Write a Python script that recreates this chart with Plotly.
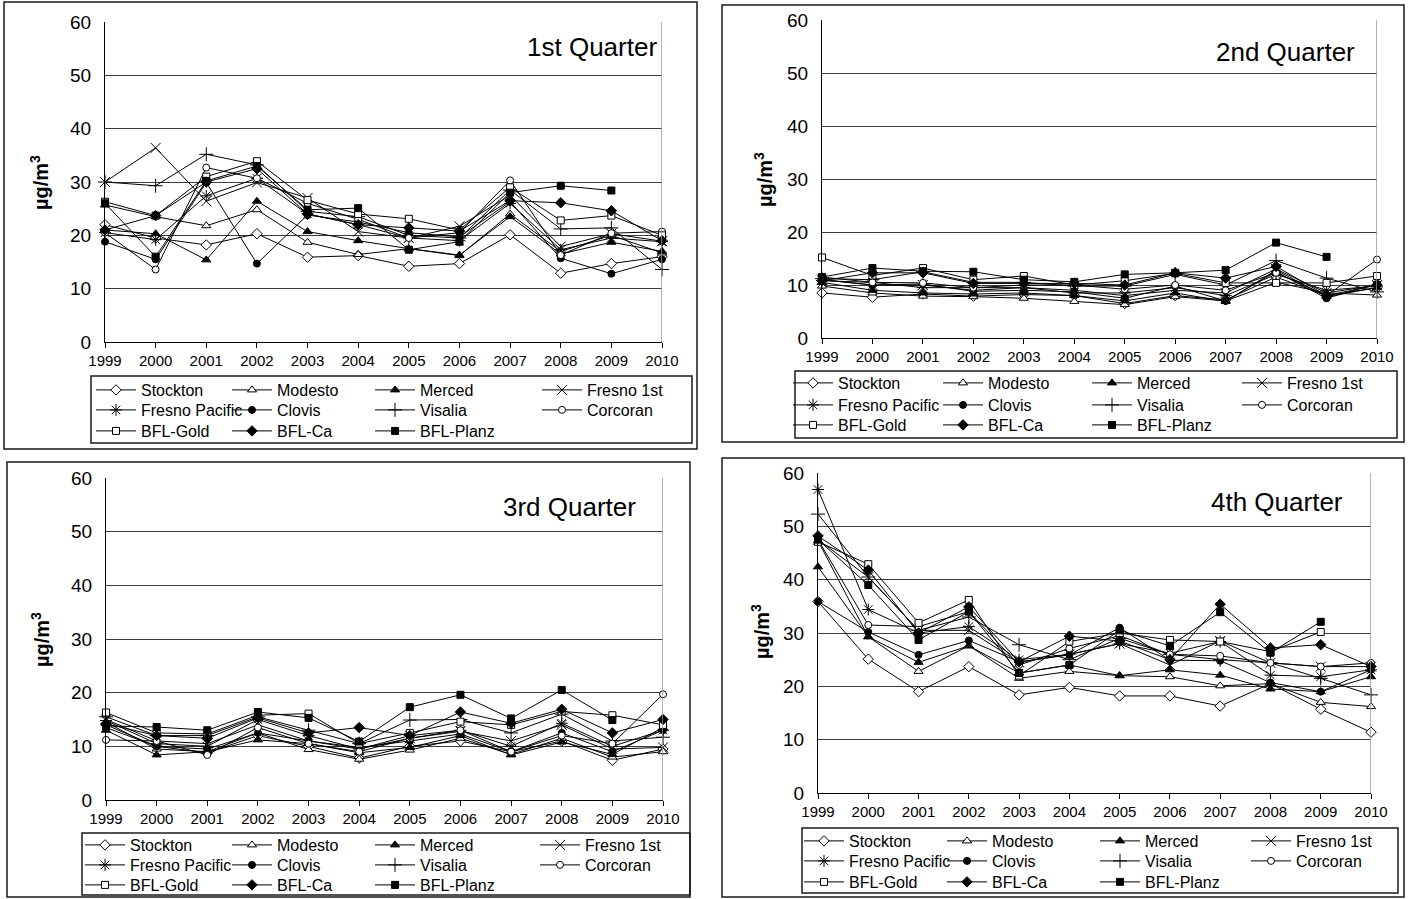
import plotly.graph_objects as go

W, H = 1408, 899

years = list(range(1999, 2011))
sites = ["Stockton", "Modesto", "Merced", "Fresno 1st", "Fresno Pacific", "Clovis",
         "Visalia", "Corcoran", "BFL-Gold", "BFL-Ca", "BFL-Planz"]
quarters = ["1st Quarter", "2nd Quarter", "3rd Quarter", "4th Quarter"]
y_ticks = [0, 10, 20, 30, 40, 50, 60]

# Quarterly mean concentrations (µg/m3), one row per site in the order of `sites`
q1_values = [
    [22.0, 19.5, 18.2, 20.3, 15.9, 16.2, 14.2, 14.7, 20.1, 12.9, 14.7, 16.0],
    [25.7, 23.5, 21.8, 24.8, 18.7, 16.4, 17.5, 16.2, 24.0, 17.0, 20.0, 16.7],
    [21.0, 20.3, 15.4, 26.4, 20.7, 19.0, 17.5, 16.3, 23.5, 16.5, 18.7, 17.0],
    [30.0, 36.4, 26.4, 29.9, 27.0, 20.7, 19.5, 21.7, 27.5, 17.9, 20.3, 18.9],
    [20.5, 19.2, 27.4, 30.7, 24.0, 22.0, 19.5, 19.0, 26.0, 17.3, 19.5, 18.8],
    [18.8, 15.5, 29.9, 14.7, 23.8, 22.5, 20.5, 19.7, 26.3, 15.7, 12.8, 15.5],
    [30.0, 29.3, 35.2, 33.2, 24.5, 23.5, 20.0, 19.5, 28.5, 21.2, 21.4, 13.6],
    [20.5, 13.6, 32.7, 30.7, 26.0, 23.0, 19.5, 20.5, 30.3, 16.3, 20.4, 20.7],
    [26.3, 23.7, 31.0, 33.9, 26.6, 24.0, 23.1, 21.0, 29.0, 22.8, 23.7, 20.0],
    [21.0, 23.7, 30.0, 32.5, 24.0, 22.0, 21.4, 20.8, 26.5, 26.1, 24.6, 19.0],
    [26.0, 16.0, 30.2, 33.0, 24.8, 25.1, 17.3, 18.8, 28.0, 29.3, 28.4, None],
]
q2_values = [
    [8.5, 7.7, 8.3, 7.9, 8.2, 8.0, 6.5, 8.0, 7.2, 11.5, 8.0, 9.5],
    [9.8, 8.5, 7.9, 7.8, 7.5, 6.9, 6.3, 7.8, 7.0, 10.5, 8.5, 8.1],
    [10.5, 9.0, 8.5, 8.3, 8.5, 8.0, 7.0, 8.5, 6.9, 12.8, 7.8, 9.5],
    [11.0, 10.0, 10.0, 9.0, 9.5, 9.0, 8.0, 9.0, 8.5, 13.0, 8.5, 10.0],
    [10.8, 10.5, 9.5, 9.5, 9.5, 8.5, 8.5, 9.5, 8.0, 12.0, 9.0, 9.8],
    [11.0, 10.0, 10.2, 8.8, 9.0, 8.7, 7.5, 9.8, 7.0, 12.5, 7.5, 10.2],
    [11.2, 11.0, 12.5, 10.5, 10.5, 9.8, 9.8, 12.0, 10.0, 14.6, 11.3, 8.7],
    [11.5, 10.5, 10.4, 9.5, 10.0, 10.0, 9.2, 10.0, 9.0, 12.3, 8.0, 14.8],
    [15.2, 11.8, 13.2, 11.0, 11.7, 10.0, 10.8, 12.2, 10.4, 10.4, 10.4, 11.7],
    [10.8, 12.3, 12.3, 10.3, 10.3, 10.3, 10.0, 12.3, 11.3, 13.5, 8.0, 10.0],
    [11.5, 13.2, 12.6, 12.5, 11.0, 10.6, 12.0, 12.3, 12.8, 18.0, 15.3, None],
]
q3_values = [
    [14.0, 10.0, 8.8, 12.0, 10.0, 7.8, 10.0, 11.0, 9.0, 11.0, 7.4, 9.5],
    [14.5, 9.5, 9.0, 12.5, 9.4, 7.6, 9.3, 11.5, 8.5, 11.5, 8.0, 9.0],
    [13.0, 8.4, 9.0, 11.2, 10.5, 8.8, 9.8, 12.0, 8.4, 10.8, 8.5, 13.5],
    [15.0, 11.0, 10.5, 14.0, 11.0, 9.5, 11.5, 12.8, 11.0, 14.0, 9.5, 9.8],
    [14.8, 10.5, 10.0, 15.0, 12.0, 9.5, 12.0, 13.0, 10.0, 14.3, 10.0, 13.0],
    [13.5, 10.0, 9.5, 12.5, 11.0, 9.8, 11.0, 12.3, 9.0, 12.5, 9.0, 13.0],
    [15.5, 12.0, 12.0, 15.5, 13.0, 10.5, 14.9, 15.0, 12.5, 16.0, 11.0, 11.7],
    [11.2, 11.0, 8.4, 13.5, 10.5, 9.0, 11.5, 13.0, 9.0, 12.0, 10.5, 19.7],
    [16.3, 12.5, 12.3, 15.8, 16.1, 10.5, 12.5, 14.6, 14.0, 16.5, 15.8, 14.0],
    [14.2, 12.0, 11.5, 15.3, 12.5, 13.5, 12.0, 16.4, 14.3, 16.9, 12.5, 15.0],
    [13.8, 13.6, 13.0, 16.4, 15.3, 10.9, 17.3, 19.6, 15.2, 20.5, 14.9, None],
]
q4_values = [
    [35.9, 25.1, 19.0, 23.7, 18.4, 19.8, 18.2, 18.2, 16.3, 20.5, 15.7, 11.4],
    [47.3, 29.3, 22.8, 27.6, 21.5, 22.8, 22.0, 21.8, 20.1, 20.5, 17.0, 16.2],
    [42.4, 29.3, 24.5, 27.6, 22.5, 24.0, 22.0, 23.1, 22.1, 19.5, 19.0, 21.8],
    [47.5, 40.5, 30.5, 30.5, 24.5, 26.0, 28.0, 24.0, 28.5, 24.4, 23.7, 23.7],
    [56.9, 34.4, 30.0, 31.2, 25.0, 26.0, 28.0, 26.2, 28.4, 22.1, 21.8, 23.1],
    [35.9, 30.2, 25.9, 28.6, 24.6, 25.9, 31.0, 24.9, 24.8, 20.7, 19.0, 23.1],
    [52.3, 40.5, 30.5, 33.0, 27.8, 25.0, 29.0, 26.0, 25.0, 24.4, 21.5, 18.4],
    [47.5, 31.5, 31.2, 34.0, 24.0, 27.1, 29.5, 26.0, 25.7, 24.4, 23.7, 24.4],
    [47.1, 42.9, 31.9, 36.2, 22.0, 28.4, 30.0, 28.7, 28.4, 26.5, 30.2, None],
    [48.2, 41.8, 30.0, 34.9, 24.6, 29.4, 28.5, 25.0, 35.4, 27.2, 27.8, 23.7],
    [47.5, 39.0, 28.7, 34.0, 22.5, 24.0, 30.5, 27.6, 33.9, 26.3, 32.1, None],
]
quarter_values = [q1_values, q2_values, q3_values, q4_values]

# marker symbol, fill colour, size for each site
marker_styles = {
    "Stockton": ("diamond", "white", 8),
    "Modesto": ("triangle-up", "white", 8),
    "Merced": ("triangle-up", "black", 8),
    "Fresno 1st": ("x-thin", "black", 10),
    "Fresno Pacific": ("asterisk", "black", 10),
    "Clovis": ("circle", "black", 7),
    "Visalia": ("cross-thin", "black", 10),
    "Corcoran": ("circle", "white", 7),
    "BFL-Gold": ("square", "white", 7),
    "BFL-Ca": ("diamond", "black", 8),
    "BFL-Planz": ("square", "black", 7),
}

# pixel layout of the four panels
panels = [
    dict(frame=(4, 2, 697, 449), plot=(105, 22, 662, 342), title=(592, 47), ytitle=(40, 183),
         legbox=(91, 376, 692, 443), legcols=(141, 277, 420, 587), legrows=(390, 410, 431)),
    dict(frame=(722, 5, 1404, 442), plot=(822, 20, 1377, 338), title=(1285, 52), ytitle=(763, 180),
         legbox=(795, 371, 1397, 438), legcols=(838, 988, 1137, 1287), legrows=(383, 405, 425)),
    dict(frame=(7, 462, 690, 897), plot=(106, 478, 663, 800), title=(569, 507), ytitle=(40, 640),
         legbox=(82, 833, 690, 895), legcols=(130, 277, 420, 585), legrows=(845, 865, 885)),
    dict(frame=(722, 458, 1404, 897), plot=(818, 473, 1371, 793), title=(1277, 502), ytitle=(760, 632),
         legbox=(802, 828, 1398, 893), legcols=(849, 992, 1145, 1296), legrows=(841, 861, 882)),
]


def px(x):
    return x / W


def py(y):
    return 1 - y / H


FONT = "Liberation Sans, Arial, sans-serif"
fig = go.Figure()
layout = dict(width=W, height=H, margin=dict(l=0, r=0, t=0, b=0, autoexpand=False),
              paper_bgcolor="white", plot_bgcolor="white",
              font=dict(family=FONT, color="black"), showlegend=True)
shapes, annotations = [], []

legend_no = 0
for p, (panel, values) in enumerate(zip(panels, quarter_values)):
    sfx = "" if p == 0 else str(p + 1)
    x0, y0, x1, y1 = panel["plot"]
    layout["xaxis" + sfx] = dict(
        domain=[px(x0), px(x1)], range=[1999, 2010], anchor="y" + sfx,
        tickvals=years, ticks="outside", ticklen=5, tickcolor="black",
        showline=True, linecolor="black", linewidth=1, showgrid=False, zeroline=False,
        tickfont=dict(size=15, family=FONT), fixedrange=True)
    layout["yaxis" + sfx] = dict(
        domain=[py(y1), py(y0)], range=[0, 60], anchor="x" + sfx,
        tickvals=y_ticks, showgrid=True, gridcolor="#3c3c3c", gridwidth=1,
        showline=True, linecolor="black", linewidth=1, zeroline=False,
        ticklabelstandoff=9, tickfont=dict(size=19, family=FONT), fixedrange=True)

    # grey right-hand edge of the plot area
    shapes.append(dict(type="line", xref="x" + sfx, yref="y" + sfx, x0=2010, x1=2010, y0=0, y1=60,
                       line=dict(color="#9a9a9a", width=1.5)))
    # panel frame and legend box
    fx0, fy0, fx1, fy1 = panel["frame"]
    shapes.append(dict(type="rect", xref="paper", yref="paper", x0=px(fx0), x1=px(fx1),
                       y0=py(fy1), y1=py(fy0), line=dict(color="#1a1a1a", width=1.5)))
    lx0, ly0, lx1, ly1 = panel["legbox"]
    shapes.append(dict(type="rect", xref="paper", yref="paper", x0=px(lx0), x1=px(lx1),
                       y0=py(ly1), y1=py(ly0), line=dict(color="#1a1a1a", width=1.5)))

    tx, ty = panel["title"]
    annotations.append(dict(text=quarters[p], x=px(tx), y=py(ty), xref="paper", yref="paper",
                            showarrow=False, xanchor="center", yanchor="middle",
                            font=dict(size=26, family=FONT)))
    ax, ay = panel["ytitle"]
    annotations.append(dict(text="<b>µg/m<sup>3</sup></b>", x=px(ax), y=py(ay), xref="paper",
                            yref="paper", showarrow=False, textangle=-90, xanchor="center",
                            yanchor="middle", font=dict(size=20, family=FONT)))

    for i, site in enumerate(sites):
        symbol, fill, size = marker_styles[site]
        legend_no += 1
        lname = "legend" if legend_no == 1 else f"legend{legend_no}"
        col, row = i % 4, i // 4
        layout[lname] = dict(
            x=px(panel["legcols"][col] - 50), y=py(panel["legrows"][row]),
            xanchor="left", yanchor="middle", orientation="h",
            bgcolor="rgba(0,0,0,0)", borderwidth=0, itemwidth=40,
            font=dict(size=16, family=FONT), itemclick=False, itemdoubleclick=False)
        fig.add_trace(go.Scatter(
            x=years, y=values[i], name=site, mode="lines+markers",
            xaxis="x" + sfx, yaxis="y" + sfx, legend=lname, cliponaxis=False,
            line=dict(color="black", width=1),
            marker=dict(symbol=symbol, color=fill, size=size,
                        line=dict(color="black", width=1)),
            connectgaps=False, hoverinfo="x+y+name"))

layout["shapes"] = shapes
layout["annotations"] = annotations
fig.update_layout(**layout)
fig.write_html("out.html")
